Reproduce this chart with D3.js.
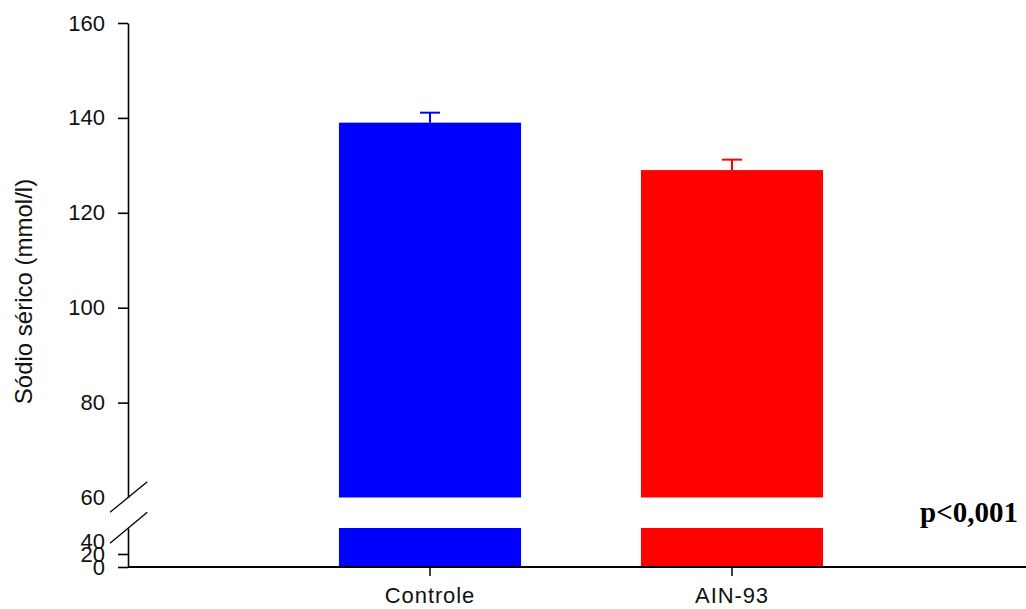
<!DOCTYPE html>
<html>
<head>
<meta charset="utf-8">
<script src="https://cdn.jsdelivr.net/npm/d3@7"></script>
<style>
  html, body { margin: 0; padding: 0; background: #fff; }
  svg { display: block; }
</style>
</head>
<body>
<svg id="chart" width="1026" height="609"></svg>
<script>
// ---- data ----
const categories = ["Controle", "AIN-93"];
const means = [139, 129];
const sems = [2.1, 2.2];
const colors = ["#0000ff", "#ff0000"];
const upperTicks = [60, 80, 100, 120, 140, 160];
const lowerTicks = [0, 20, 40];
const yTitle = "Sódio sérico (mmol/l)";
const pText = "p<0,001";

// ---- layout ----
const W = 1026, H = 609;
const axisX = 128;
const SANS = "'Liberation Sans', Arial, sans-serif";
const SERIF = "'Liberation Serif', 'Times New Roman', serif";
const svg = d3.select("#chart");

const yTop = d3.scaleLinear().domain([60, 160]).range([497.5, 23]);
const yBot = d3.scaleLinear().domain([0, 60]).range([567, 528]);
const x = d3.scaleBand().domain(categories).range([axisX, 1034])
  .paddingInner(0.397).paddingOuter(0.6985);

const rows = categories.map((c, i) => ({ c, mean: means[i], sem: sems[i], color: colors[i] }));

// bars: lower segment
svg.append("g").selectAll("rect").data(rows).join("rect")
  .attr("x", d => x(d.c)).attr("width", x.bandwidth())
  .attr("y", yBot(60)).attr("height", yBot(0) - yBot(60))
  .attr("fill", d => d.color);

// bars: upper segment
svg.append("g").selectAll("rect").data(rows).join("rect")
  .attr("x", d => x(d.c)).attr("width", x.bandwidth())
  .attr("y", d => yTop(d.mean)).attr("height", d => yTop(60) - yTop(d.mean))
  .attr("fill", d => d.color);

// error bars
const eb = svg.append("g").selectAll("g").data(rows).join("g");
eb.append("line")
  .attr("x1", d => x(d.c) + x.bandwidth() / 2).attr("x2", d => x(d.c) + x.bandwidth() / 2)
  .attr("y1", d => yTop(d.mean)).attr("y2", d => yTop(d.mean + d.sem))
  .attr("stroke", d => d.color).attr("stroke-width", 2);
eb.append("line")
  .attr("x1", d => x(d.c) + x.bandwidth() / 2 - 10).attr("x2", d => x(d.c) + x.bandwidth() / 2 + 10)
  .attr("y1", d => yTop(d.mean + d.sem)).attr("y2", d => yTop(d.mean + d.sem))
  .attr("stroke", d => d.color).attr("stroke-width", 2);

// y axes
function styleAxis(g, hidden) {
  g.select(".domain").attr("stroke", "#000").attr("stroke-width", 1.6);
  g.selectAll(".tick line").attr("stroke", "#000").attr("stroke-width", 1.6)
    .attr("display", d => hidden.includes(d) ? "none" : null);
  g.selectAll(".tick text").style("font-size", "22px").attr("fill", "#111")
    .style("font-family", SANS);
}
const gTop = svg.append("g").attr("transform", `translate(${axisX},0)`)
  .call(d3.axisLeft(yTop).tickValues(upperTicks).tickSize(10).tickSizeOuter(0).tickPadding(13));
styleAxis(gTop, [60]);
const gBot = svg.append("g").attr("transform", `translate(${axisX},0)`)
  .call(d3.axisLeft(yBot).tickValues(lowerTicks).tickSize(10).tickSizeOuter(0).tickPadding(13));
styleAxis(gBot, [40]);

// break marks
const brk = svg.append("g").attr("stroke", "#000").attr("stroke-width", 1.3);
brk.append("line").attr("x1", 110).attr("y1", 512.3).attr("x2", 147.3).attr("y2", 481.7);
brk.append("line").attr("x1", 110).attr("y1", 543.3).attr("x2", 147.3).attr("y2", 512.3);

// x axis
const gx = svg.append("g").attr("transform", `translate(0,${yBot(0)})`)
  .call(d3.axisBottom(x).tickSize(9).tickSizeOuter(0).tickPadding(11));
gx.select(".domain").remove();
gx.append("line").attr("x1", axisX).attr("x2", W).attr("y1", 0).attr("y2", 0)
  .attr("stroke", "#000").attr("stroke-width", 2.2);
gx.selectAll(".tick line").attr("stroke", "#000").attr("stroke-width", 1.5);
gx.selectAll(".tick text").style("font-size", "22px").attr("fill", "#111")
  .style("letter-spacing", "0.9px")
  .style("font-family", SANS);

// y title
svg.append("text")
  .attr("transform", `translate(32,291.5) rotate(-90)`)
  .attr("text-anchor", "middle")
  .style("font-family", SANS)
  .style("font-size", "24px").attr("fill", "#111")
  .text(yTitle);

// p-value
svg.append("text")
  .attr("x", 920).attr("y", 522)
  .style("font-family", SERIF)
  .style("font-weight", "bold").style("font-size", "29px").attr("fill", "#000")
  .text(pText);
</script>
</body>
</html>
